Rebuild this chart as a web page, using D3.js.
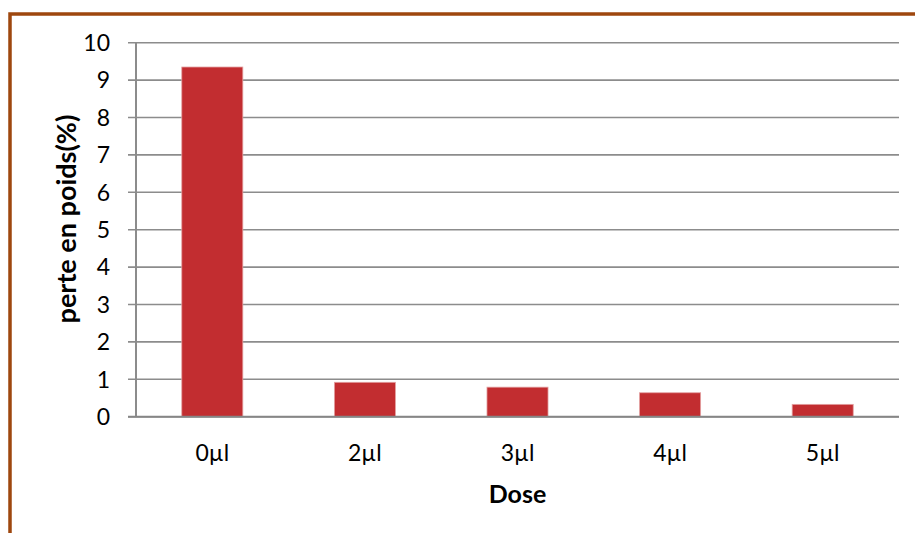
<!DOCTYPE html>
<html>
<head>
<meta charset="utf-8">
<script src="https://cdn.jsdelivr.net/npm/d3@7"></script>
<style>
  body { margin: 0; background: #fff; }
  text { font-family: Lato, "Open Sans", sans-serif; fill: #000; }
</style>
</head>
<body>
<div id="chart"></div>
<script>
let categories = ['0µl', '2µl', '3µl', '4µl', '5µl'],
    values = [9.35, 0.92, 0.79, 0.64, 0.33],
    yTicks = [0, 1, 2, 3, 4, 5, 6, 7, 8, 9, 10];

let width = 915,
    height = 533,
    margin = {top: 42.7, right: 16, bottom: 116.3, left: 136};

let svg = d3.select('#chart').append('svg')
    .attr('width', width)
    .attr('height', height)

// frame (top and left border)
svg.append('path')
    .attr('d', 'M10,' + height + 'V14H' + width)
    .attr('fill', 'none')
    .attr('stroke', '#9E470E')
    .attr('stroke-width', 3.5)

let x = d3.scaleBand().domain(categories)
    .range([margin.left, width - margin.right])
    .paddingInner(0.6).paddingOuter(0.3) // bars ~40% of slot

let y = d3.scaleLinear().domain([0, 10]).range([height - margin.bottom, margin.top])

// gridlines
svg.append('g')
    .selectAll('line')
    .data(yTicks)
    .join('line')
    .attr('x1', margin.left - 8)
    .attr('x2', width - margin.right)
    .attr('y1', d => y(d))
    .attr('y2', d => y(d))
    .attr('stroke', '#8c8c8c')
    .attr('stroke-width', 1.6)

// bars
svg.append('g')
    .selectAll('rect')
    .data(values)
    .join('rect')
    .attr('x', (d, i) => x(categories[i]))
    .attr('y', d => y(d))
    .attr('width', x.bandwidth())
    .attr('height', d => y(0) - y(d))
    .attr('fill', '#C22D30')
    .attr('stroke', '#e3a0a1')
    .attr('stroke-width', 0.8)

// y axis line
svg.append('line')
    .attr('x1', margin.left).attr('x2', margin.left)
    .attr('y1', y(10)).attr('y2', y(0))
    .attr('stroke', '#8c8c8c')
    .attr('stroke-width', 2)

// baseline
svg.append('line')
    .attr('x1', margin.left - 8).attr('x2', width - margin.right)
    .attr('y1', y(0)).attr('y2', y(0))
    .attr('stroke', '#868686')
    .attr('stroke-width', 2)

// y tick labels
svg.append('g')
    .selectAll('text')
    .data(yTicks)
    .join('text')
    .attr('x', margin.left - 26)
    .attr('y', d => y(d))
    .attr('dy', '0.36em')
    .attr('text-anchor', 'end')
    .style('font-size', '23px')
    .text(d => d)

// x tick labels
svg.append('g')
    .selectAll('text')
    .data(categories)
    .join('text')
    .attr('x', d => x(d) + x.bandwidth() / 2)
    .attr('y', y(0) + 36)
    .attr('dy', '0.36em')
    .attr('text-anchor', 'middle')
    .style('font-size', '23px')
    .text(d => d)

// axis titles
svg.append('text')
    .attr('x', (margin.left + width - margin.right) / 2)
    .attr('y', y(0) + 77)
    .attr('dy', '0.36em')
    .attr('text-anchor', 'middle')
    .style('font-size', '25px')
    .style('font-weight', 'bold')
    .text('Dose')

svg.append('text')
    .attr('transform', 'translate(66,219) rotate(-90)')
    .attr('dy', '0.36em')
    .attr('text-anchor', 'middle')
    .style('font-size', '27px')
    .style('font-weight', 'bold')
    .text('perte en poids(%)')
</script>
</body>
</html>
